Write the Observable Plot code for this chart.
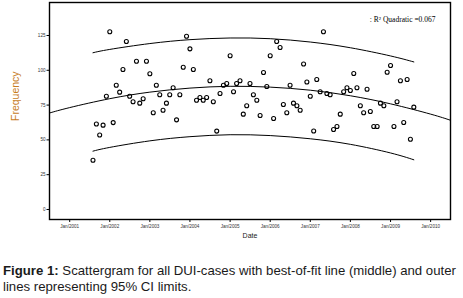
<!DOCTYPE html>
<html><head><meta charset="utf-8">
<script src="https://cdn.jsdelivr.net/npm/d3@7"></script>
<script src="https://cdn.jsdelivr.net/npm/@observablehq/plot@0.6"></script>
<style>
body{margin:0;background:#fff;}
#cap{font-family:"Liberation Sans",Arial,sans-serif;font-size:13.2px;line-height:16px;color:#1a1a1a;margin:13px 0 0 3px;white-space:nowrap;}
</style></head><body>
<div id="chart"></div>
<div id="cap"><b>Figure 1:</b> Scattergram for all DUI-cases with best-of-fit line (middle) and outer<br>lines representing 95% CI limits.</div>
<script>
// monthly DUI-case frequencies, first month Aug 2001
const startMonth = "2001-08-01";
const frequency = [35.4, 61.4, 53.5, 60.6, 81.4, 127.7, 62.4, 89.3, 84.3, 100.6,
  120.7, 81.4, 77.4, 106.5, 76.4, 79.5, 106.5, 97.5, 69.5, 89.3,
  82.4, 71.3, 76.4, 82.4, 87.4, 64.4, 82.4, 102.2, 124.5, 115.4,
  100.6, 78.5, 80.5, 78.5, 80.5, 92.5, 77.4, 56.3, 83.3, 89.3,
  90.5, 110.4, 84.6, 90.5, 92.5, 68.5, 74.5, 90.5, 82.4, 78.5,
  67.5, 98.4, 88.4, 110.4, 65.4, 120.7, 116.4, 75.4, 69.5, 89.3,
  76.4, 74.5, 71.3, 104.5, 91.6, 81.4, 56.4, 93.4, 84.6, 127.7,
  83.3, 82.4, 57.5, 59.6, 68.5, 84.6, 87.4, 85.5, 97.7, 87.4,
  74.5, 69.5, 86.4, 70.4, 59.6, 59.6, 76.4, 74.5, 98.6, 103.4,
  59.6, 77.4, 92.5, 62.5, 93.4, 50.5, 73.5];
const yearTicks = ["2001-01-01","2002-01-01","2003-01-01","2004-01-01","2005-01-01",
  "2006-01-01","2007-01-01","2008-01-01","2009-01-01","2010-01-01"];
const yTicks = [0, 25, 50, 75, 100, 125];
// quadratic best-of-fit line
const fitDates = ["2000-07-01","2001-01-01","2002-01-01","2003-01-01","2004-01-01","2005-01-01",
  "2006-01-01","2007-01-01","2008-01-01","2009-01-01","2010-01-01","2010-07-01"];
const fitMid = [69.3, 73.2, 79.6, 84.3, 87.2, 88.5, 87.9, 85.7, 81.7, 75.9, 68.5, 64.1];
// 95% CI limits
const ciDates = ["2001-08-01","2002-01-01","2003-01-01","2004-01-01","2005-01-01",
  "2006-01-01","2007-01-01","2008-01-01","2009-01-01","2009-08-01"];
const ciUpper = [112.6, 115.0, 119.2, 122.0, 123.2, 122.7, 120.3, 116.2, 110.3, 106.0];
const ciLower = [41.9, 44.6, 49.3, 52.3, 53.7, 53.1, 50.8, 46.8, 40.6, 35.7];
const r2Label = ": R\u00B2 Quadratic =0.067";
const xLabel = "Date";
const yLabel = "Frequency";

const t0 = new Date(startMonth);
const pts = frequency.map((v, i) => ({date: d3.utcMonth.offset(t0, i), value: v}));
const mid = fitDates.map((d, i) => ({date: new Date(d), value: fitMid[i]}));
const up = ciDates.map((d, i) => ({date: new Date(d), value: ciUpper[i]}));
const lo = ciDates.map((d, i) => ({date: new Date(d), value: ciLower[i]}));

const chart = Plot.plot({
  width: 463, height: 250,
  marginLeft: 49, marginRight: 13, marginTop: 2, marginBottom: 31,
  x: {type: "utc", domain: [new Date("2000-07-01"), new Date("2010-07-01")]},
  y: {domain: [-7.2, 148.7]},
  style: {fontFamily: "Liberation Sans, Arial, sans-serif", background: "white"},
  marks: [
    Plot.axisX({ticks: yearTicks.map(d => new Date(d)), tickFormat: d3.utcFormat("Jan/%Y"),
      tickSize: 3, tickPadding: 2, fontSize: 4.6, label: null, fill: "#333", stroke: "black"}),
    Plot.axisY({ticks: yTicks, tickSize: 2.5, tickPadding: 1.5, fontSize: 4.6, label: null, fill: "#333", stroke: "black"}),
    Plot.line(mid, {x: "date", y: "value", curve: "natural", stroke: "black", strokeWidth: 1}),
    Plot.line(up, {x: "date", y: "value", curve: "natural", stroke: "black", strokeWidth: 1}),
    Plot.line(lo, {x: "date", y: "value", curve: "natural", stroke: "black", strokeWidth: 1}),
    Plot.dot(pts, {x: "date", y: "value", r: 2, stroke: "black", strokeWidth: 1.1}),
    Plot.frame({stroke: "black", strokeWidth: 1.4}),
    Plot.text([r2Label], {frameAnchor: "top-right", dx: -15, dy: 17, textAnchor: "end", lineAnchor: "middle",
      fontFamily: "Liberation Serif, Times New Roman, serif", fontSize: 7.5, fill: "black"}),
    Plot.text([xLabel], {frameAnchor: "bottom", dy: 18, fontSize: 7, fill: "#222"}),
    Plot.text([yLabel], {frameAnchor: "left", rotate: -90, dx: -34, dy: 10, fontSize: 10.5, fill: "#c77d1f"})
  ]
});
document.getElementById("chart").appendChild(chart);
</script>
</body></html>
